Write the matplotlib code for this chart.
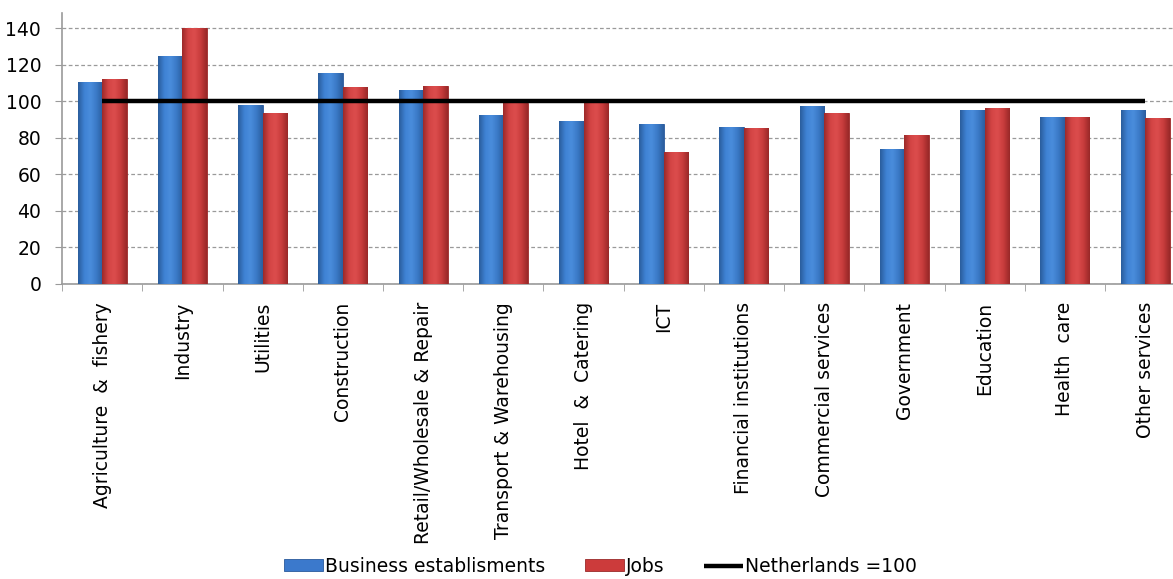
import matplotlib.pyplot as plt
import numpy as np
from matplotlib.colors import LinearSegmentedColormap

# Sector index figures (Netherlands = 100)
sectors = ['Agriculture  &  fishery', 'Industry', 'Utilities', 'Construction',
           'Retail/Wholesale & Repair', 'Transport & Warehousing', 'Hotel  &  Catering',
           'ICT', 'Financial institutions', 'Commercial services', 'Government',
           'Education', 'Health  care', 'Other services']
establishments = [110.6, 124.8, 97.8, 115.6, 106.2, 92.3, 89.3,
                  87.6, 86.0, 97.6, 73.8, 95.2, 91.4, 95.2]
jobs = [112.1, 140.0, 93.4, 107.9, 108.4, 99.1, 98.8,
        72.0, 85.5, 93.4, 81.5, 96.4, 91.4, 90.9]
national = [100] * len(sectors)
y_ticks = [0, 20, 40, 60, 80, 100, 120, 140]

x = np.arange(len(sectors))
w = 0.305

blue_shade = LinearSegmentedColormap.from_list(
    'blue_shade', ['#2a5d9c', '#3f82d4', '#4a8ddc', '#3a79c6', '#2b5e9e'])
red_shade = LinearSegmentedColormap.from_list(
    'red_shade', ['#9c2a2a', '#d34444', '#dc4d4d', '#c83c3c', '#982828'])
ramp = np.linspace(0, 1, 64).reshape(1, -1)


def shade_bars(ax, bars, cmap):
    # paint a left-to-right gradient inside each bar to give it a rounded look
    for b in bars:
        x0, y0 = b.get_x(), b.get_y()
        im = ax.imshow(ramp, cmap=cmap, aspect='auto', interpolation='bicubic',
                       extent=(x0, x0 + b.get_width(), y0, y0 + b.get_height()),
                       zorder=3)
        im.set_clip_path(b)


fig = plt.figure(figsize=(11.73, 5.79), dpi=100)
ax = fig.add_axes([0.0529, 0.5095, 0.9575, 0.468])

b1 = ax.bar(x - w / 2, establishments, w, color='#3b79cc', edgecolor='#2a5a9c',
            linewidth=0.6, label='Business establisments', zorder=3)
b2 = ax.bar(x + w / 2, jobs, w, color='#cc3b3b', edgecolor='#9a2a2a',
            linewidth=0.6, label='Jobs', zorder=3)
shade_bars(ax, b1, blue_shade)
shade_bars(ax, b2, red_shade)
line, = ax.plot(x, national, color='black', linewidth=3.2, label='Netherlands =100',
                solid_capstyle='butt', zorder=4)

ax.set_xlim(-0.5, len(sectors) - 0.5)
ax.set_ylim(0, 148.2)
ax.set_yticks(y_ticks)
ax.yaxis.grid(True, linestyle=(0, (3, 2)), color='#9a9a9a', linewidth=0.9, zorder=0)

# category labels sit centred, tick marks go between categories
ax.set_xticks(x)
ax.set_xticklabels(sectors, rotation=90, fontsize=13.5)
ax.set_xticks(np.arange(len(sectors) + 1) - 0.5, minor=True)
ax.tick_params(axis='x', which='major', length=0, pad=13)
ax.tick_params(axis='x', which='minor', length=5, color='#9a9a9a', direction='out')
ax.tick_params(axis='y', length=5, color='#9a9a9a', labelsize=13.5, pad=10)

for side in ['top', 'right']:
    ax.spines[side].set_visible(False)
for side in ['left', 'bottom']:
    ax.spines[side].set_color('#9a9a9a')
    ax.spines[side].set_linewidth(1.2)

fig.legend(handles=[b1, b2, line], loc='center', bbox_to_anchor=(0.512, 0.022),
           ncol=3, frameon=False, fontsize=13.5, handlelength=2.1, handleheight=0.55,
           handletextpad=0.1, columnspacing=2.1)

fig.savefig('out.png', dpi=100)
